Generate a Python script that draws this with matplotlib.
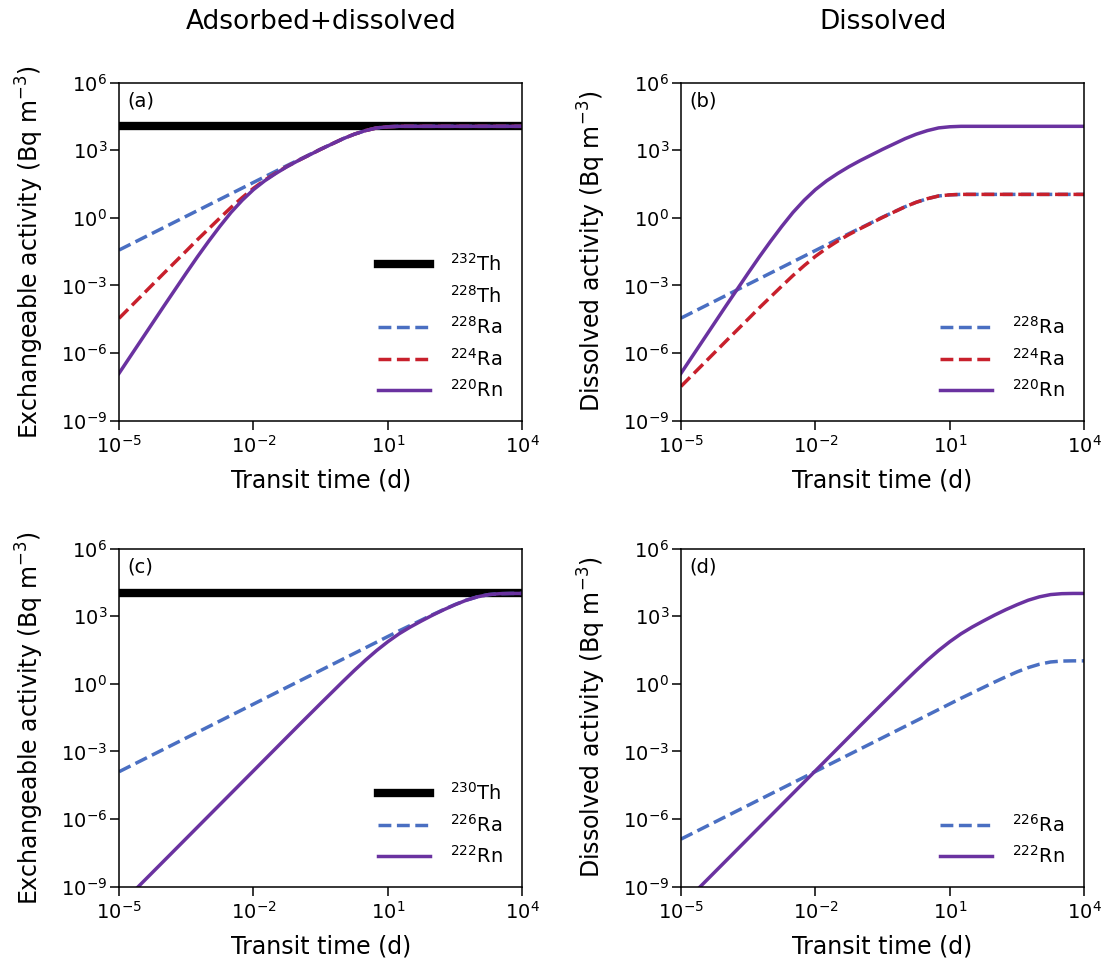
import matplotlib
matplotlib.use("agg")
import matplotlib.pyplot as plt
from matplotlib.ticker import NullLocator
import numpy as np

# log10 of transit time (d)
t_thorium = [-5, -4.5, -4, -3.5, -3.25, -3, -2.75, -2.5, -2.25, -2, -1.75, -1.5,
             -1.25, -1, -0.5, 0, 0.25, 0.5, 0.75, 1, 1.25, 1.5, 2, 3, 4]
t_uranium = [-5, -4, -3, -2, -1, -0.5, 0, 0.25, 0.5, 0.75, 1, 1.25, 1.5, 1.75,
             2, 2.25, 2.5, 2.75, 3, 3.25, 3.5, 3.75, 4]

# log10 activities (Bq m-3), 232Th series
th232_exch = [4.06, 4.06]
ra228_exch = [-1.43, -0.93, -0.43, 0.07, 0.32, 0.57, 0.82, 1.07, 1.32, 1.57, 1.82, 2.07,
              2.32, 2.56, 3.05, 3.51, 3.71, 3.87, 3.99, 4.04, 4.06, 4.06, 4.06, 4.06, 4.06]
ra224_exch = [-4.46, -3.46, -2.46, -1.47, -0.97, -0.49, -0.01, 0.46, 0.90, 1.31, 1.67, 1.99,
              2.28, 2.54, 3.04, 3.51, 3.71, 3.87, 3.99, 4.04, 4.06, 4.06, 4.06, 4.06, 4.06]
rn220 = [-6.90, -5.41, -3.92, -2.45, -1.73, -1.04, -0.38, 0.24, 0.78, 1.25, 1.64, 1.97,
         2.27, 2.54, 3.04, 3.51, 3.71, 3.87, 3.99, 4.04, 4.06, 4.06, 4.06, 4.06, 4.06]
ra228_diss = [-4.45, -3.95, -3.45, -2.95, -2.70, -2.45, -2.20, -1.95, -1.70, -1.45, -1.20, -0.95,
              -0.70, -0.46, 0.03, 0.49, 0.69, 0.85, 0.97, 1.02, 1.04, 1.04, 1.04, 1.04, 1.04]
ra224_diss = [-7.48, -6.48, -5.48, -4.49, -3.99, -3.51, -3.03, -2.56, -2.12, -1.71, -1.35, -1.03,
              -0.74, -0.48, 0.02, 0.49, 0.69, 0.85, 0.97, 1.02, 1.04, 1.04, 1.04, 1.04, 1.04]

# 238U series
th230_exch = [4.01, 4.01]
ra226_exch = [-3.90, -2.90, -1.90, -0.90, 0.10, 0.60, 1.10, 1.35, 1.60, 1.85, 2.10, 2.35,
              2.59, 2.83, 3.07, 3.30, 3.52, 3.71, 3.86, 3.96, 4.00, 4.01, 4.01]
rn222 = [-9.86, -7.86, -5.86, -3.86, -1.86, -0.87, 0.11, 0.59, 1.05, 1.48, 1.87, 2.22,
         2.52, 2.79, 3.05, 3.29, 3.51, 3.71, 3.86, 3.96, 4.00, 4.01, 4.01]
ra226_diss = [-6.89, -5.89, -4.89, -3.89, -2.89, -2.39, -1.89, -1.64, -1.39, -1.14, -0.89, -0.64,
              -0.40, -0.16, 0.08, 0.31, 0.53, 0.72, 0.87, 0.97, 1.01, 1.02, 1.02]

BLUE = "#4a6fc2"
RED = "#c8202c"
PURPLE = "#6a32a0"
LW = 2.5


def p(v):
    return 10.0 ** np.array(v)


def style_axes(ax, ylabel, tag):
    ax.set_xscale("log")
    ax.set_yscale("log")
    ax.set_xlim(1e-5, 1e4)
    ax.set_ylim(1e-9, 1e6)
    ax.set_xticks([1e-5, 1e-2, 1e1, 1e4])
    ax.set_yticks([1e-9, 1e-6, 1e-3, 1e0, 1e3, 1e6])
    ax.xaxis.set_minor_locator(NullLocator())
    ax.yaxis.set_minor_locator(NullLocator())
    ax.tick_params(direction="out", length=6.5, width=1.1, labelsize=14)
    ax.tick_params(axis="y", pad=2)
    for s in ax.spines.values():
        s.set_linewidth(1.1)
    ax.set_xlabel("Transit time (d)", fontsize=17, labelpad=9)
    ax.set_ylabel(ylabel, fontsize=17, labelpad=11)
    ax.text(0.02, 0.975, tag, transform=ax.transAxes, ha="left", va="top", fontsize=14)


fig = plt.figure(figsize=(11.04, 9.66), dpi=100)
w, h = 0.3653, 0.350
ax_a = fig.add_axes([0.1078, 0.5645, w, h])
ax_b = fig.add_axes([0.6168, 0.5645, w, h])
ax_c = fig.add_axes([0.1078, 0.0821, w, h])
ax_d = fig.add_axes([0.6168, 0.0821, w, h])

exch_label = "Exchangeable activity (Bq m$^{-3}$)"
diss_label = "Dissolved activity (Bq m$^{-3}$)"

# (a)
ax_a.plot(p([-5, 4]), p(th232_exch), color="black", lw=6, label="$^{232}$Th")
ax_a.plot(p([-5, 4]), p(th232_exch), color="none", lw=LW, label="$^{228}$Th")
ax_a.plot(p(t_thorium), p(ra228_exch), color=BLUE, lw=LW, ls="--", label="$^{228}$Ra")
ax_a.plot(p(t_thorium), p(ra224_exch), color=RED, lw=LW, ls="--", label="$^{224}$Ra")
ax_a.plot(p(t_thorium), p(rn220), color=PURPLE, lw=LW, label="$^{220}$Rn")
style_axes(ax_a, exch_label, "(a)")

# (b)
ax_b.plot(p(t_thorium), p(ra228_diss), color=BLUE, lw=LW, ls="--", label="$^{228}$Ra")
ax_b.plot(p(t_thorium), p(ra224_diss), color=RED, lw=LW, ls="--", label="$^{224}$Ra")
ax_b.plot(p(t_thorium), p(rn220), color=PURPLE, lw=LW, label="$^{220}$Rn")
style_axes(ax_b, diss_label, "(b)")

# (c)
ax_c.plot(p([-5, 4]), p(th230_exch), color="black", lw=6, label="$^{230}$Th")
ax_c.plot(p(t_uranium), p(ra226_exch), color=BLUE, lw=LW, ls="--", label="$^{226}$Ra")
ax_c.plot(p(t_uranium), p(rn222), color=PURPLE, lw=LW, label="$^{222}$Rn")
style_axes(ax_c, exch_label, "(c)")

# (d)
ax_d.plot(p(t_uranium), p(ra226_diss), color=BLUE, lw=LW, ls="--", label="$^{226}$Ra")
ax_d.plot(p(t_uranium), p(rn222), color=PURPLE, lw=LW, label="$^{222}$Rn")
style_axes(ax_d, diss_label, "(d)")

for ax in [ax_a, ax_b, ax_c, ax_d]:
    ax.legend(loc="lower right", frameon=False, fontsize=14, handlelength=2.7,
              handletextpad=1.0, borderaxespad=0.6)

fig.text(0.291, 0.977, "Adsorbed+dissolved", ha="center", va="center", fontsize=19)
fig.text(0.800, 0.977, "Dissolved", ha="center", va="center", fontsize=19)

plt.savefig("out.png", dpi=100)
